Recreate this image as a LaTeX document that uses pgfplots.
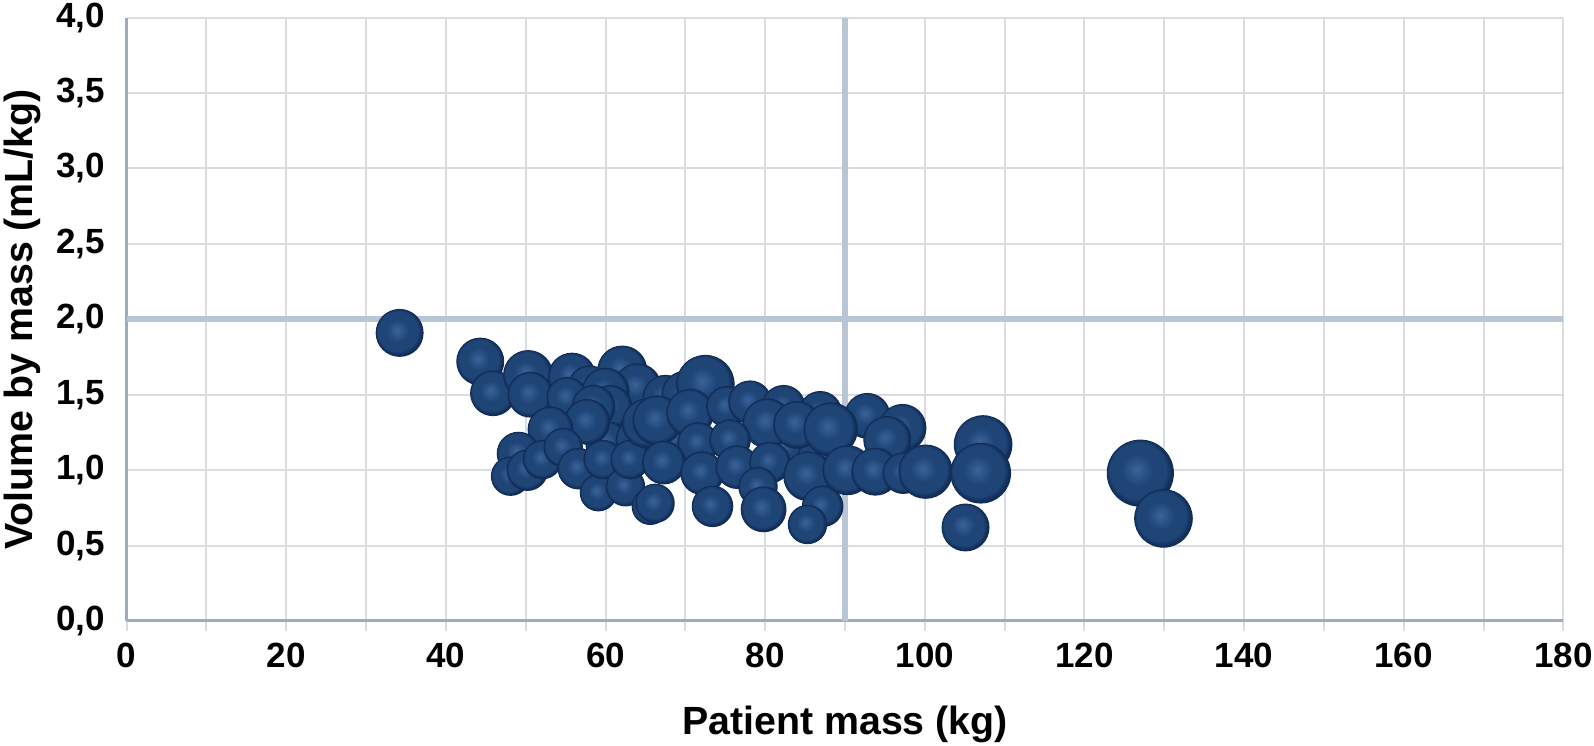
\documentclass[border=0pt]{standalone}
\usepackage{pgfplots}
\pgfplotsset{compat=1.18}
\usepackage{pgfplotstable}
\usepackage{fontspec}
\setmainfont{Liberation Sans}

\definecolor{bubhi}{HTML}{3A6399}
\definecolor{bubmid}{HTML}{1F4577}
\definecolor{bubdark}{HTML}{112D57}
\definecolor{refl}{HTML}{B8C5D4}
\definecolor{gridc}{HTML}{D9DDE2}
\definecolor{axisc}{HTML}{9FAABB}

% soft navy sphere for the bubbles
\pgfdeclareradialshading{bubshade}{\pgfpoint{-3bp}{3bp}}{color(0bp)=(bubhi); color(12bp)=(bubmid); color(21bp)=(bubmid); color(25bp)=(bubdark); color(50bp)=(bubdark)}
\pgfdeclareplotmark{bubble}{%
  \pgfpathcircle{\pgfpointorigin}{\pgfplotmarksize}%
  \pgfshadepath{bubshade}{0}%
  \pgfusepath{discard}%
  \pgfpathcircle{\pgfpointorigin}{\pgfplotmarksize}%
  \pgfusepath{stroke}%
}

% x = patient mass, y = volume by mass, r = bubble radius (px)
\pgfplotstableread{
x y r
34.2 1.91 22
44.3 1.72 22
45.9 1.51 21
50.3 1.63 23
50.6 1.50 21
55.8 1.62 22
58.0 1.55 20
55.2 1.48 19
62.1 1.66 23
64.0 1.55 22
60.0 1.52 22
60.6 1.42 20
58.5 1.42 20
60.2 1.18 20
64.0 1.20 20
68.5 1.20 21
57.7 1.32 21
53.1 1.27 21
49.1 1.11 20
48.1 0.96 18
50.2 1.00 19
52.1 1.07 18
54.7 1.15 18
56.6 1.01 19
59.1 0.85 17
59.7 1.07 18
62.5 0.89 18
63.1 1.07 18
65.6 0.76 17
67.5 1.48 21
70.0 1.50 22
72.5 1.57 27
65.2 1.31 23
66.5 1.33 23
70.6 1.38 22
75.2 1.42 19
78.1 1.45 20
82.3 1.42 20
86.9 1.38 20
82.5 1.15 21
86.9 1.08 21
80.3 1.31 23
84.0 1.30 22
71.6 1.18 19
75.6 1.20 19
67.3 1.05 20
72.1 0.98 20
76.5 1.02 20
80.6 1.05 19
85.4 0.96 23
66.2 0.78 18
73.4 0.76 19
79.1 0.89 18
79.8 0.74 21
87.2 0.76 19
85.3 0.64 18
92.8 1.36 21
97.2 1.28 22
95.3 1.20 22
88.2 1.27 25
90.3 1.00 23
93.8 0.99 22
97.3 0.98 19
100.1 0.99 25
107.3 1.17 27
107.0 0.98 28
105.1 0.62 22
127.0 0.98 31
129.9 0.68 27
}\bubbles

\begin{document}
\begin{tikzpicture}
\begin{axis}[
    scale only axis,
    width=431pt, height=181pt,
    xmin=0, xmax=180, ymin=0, ymax=4,
    xtick={0,20,...,180},
    minor xtick={10,30,...,170},
    ytick={0,0.5,...,4},
    grid=both,
    major grid style={gridc, line width=0.6pt},
    minor grid style={gridc, line width=0.6pt},
    axis lines*=left,
    axis line style={axisc, line width=0.9pt, -},
    tick align=outside,
    major tick length=3pt,
    minor tick length=3pt,
    x tick style={gridc, line width=0.6pt},
    y tick style={draw=none},
    /pgf/number format/assume math mode=true,
    ticklabel style={font=\fontsize{10.5}{12}\selectfont\bfseries},
    yticklabel style={/pgf/number format/.cd, fixed, fixed zerofill, precision=1, use comma},
    xticklabel style={/pgf/number format/.cd, fixed},
    xlabel={Patient mass (kg)},
    ylabel={Volume by mass (mL/kg)},
    label style={font=\fontsize{11.8}{14}\selectfont\bfseries},
    xlabel style={at={(axis description cs:0.5,-0.171)}, anchor=center},
    ylabel style={at={(axis description cs:-0.0729,0.5)}, anchor=center},
]
\addplot[refl, line width=1.8pt] coordinates {(90,0) (90,4)};
\addplot[refl, line width=1.8pt] coordinates {(0,2) (180,2)};
\addplot[scatter, only marks, mark=bubble, draw=bubdark, line width=0.3pt,
    scatter/use mapped color={draw=bubdark, fill=bubdark},
    visualization depends on={0.32*\thisrow{r} \as \rad},
    scatter/@pre marker code/.append style={/tikz/mark size=\rad}]
    table[x=x, y=y] {\bubbles};
\end{axis}
\pgfresetboundingbox
\path[use as bounding box] ([xshift=-38pt,yshift=-37.5pt]current axis.south west) rectangle ++(478.2pt,223.8pt);
\end{tikzpicture}
\end{document}
